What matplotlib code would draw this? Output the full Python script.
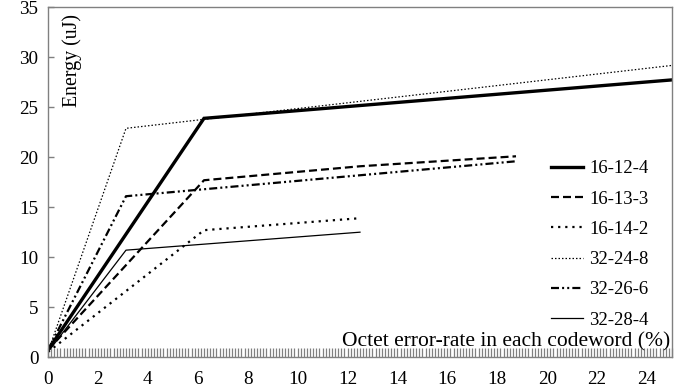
import matplotlib
matplotlib.use("Agg")
import matplotlib.pyplot as plt
import numpy as np
from matplotlib.ticker import MultipleLocator

plt.rcParams['font.family'] = ['Liberation Serif', 'DejaVu Serif']

# Data
x_16_12_4 = [0, 6.25, 25]
y_16_12_4 = [0.7, 23.9, 27.75]
x_16_13_3 = [0, 6.25, 12.5, 18.75]
y_16_13_3 = [0.7, 17.7, 19.1, 20.1]
x_16_14_2 = [0, 6.25, 12.5]
y_16_14_2 = [0.5, 12.7, 13.9]
x_32_24_8 = [0, 3.125, 25]
y_32_24_8 = [0.5, 22.9, 29.2]
x_32_26_6 = [0, 3.125, 18.75]
y_32_26_6 = [0.7, 16.1, 19.6]
x_32_28_4 = [0, 3.125, 12.5]
y_32_28_4 = [0.5, 10.7, 12.5]

labels = ['16-12-4', '16-13-3', '16-14-2', '32-24-8', '32-26-6', '32-28-4']
x_ticks = list(range(0, 25, 2))
y_ticks = list(range(0, 36, 5))

fig = plt.figure(figsize=(6.95, 3.87), dpi=100)
ax = fig.add_axes([48/695, 1-357/387, (672-48)/695, (357-7.5)/387])

FS = 13.8
ax.plot(x_16_12_4, y_16_12_4, color='black', lw=2.4, solid_joinstyle='miter', label=labels[0])
ax.plot(x_16_13_3, y_16_13_3, color='black', lw=1.6, dashes=(3.6, 1.8), label=labels[1])
ax.plot(x_16_14_2, y_16_14_2, color='black', lw=1.6, dashes=(1.0, 2.2), label=labels[2])
ax.plot(x_32_24_8, y_32_24_8, color='black', lw=0.9, dashes=(1.2, 1.6), label=labels[3])
ax.plot(x_32_26_6, y_32_26_6, color='black', lw=1.6, dashes=(3.6, 1.4, 0.9, 1.4, 0.9, 1.4), label=labels[4])
ax.plot(x_32_28_4, y_32_28_4, color='black', lw=0.9, label=labels[5])

ax.set_xlim(0, 25)
ax.set_ylim(0, 35)
ax.set_xticks(x_ticks)
ax.set_yticks(y_ticks)
ax.xaxis.set_minor_locator(MultipleLocator(0.125))

for s in ax.spines.values():
    s.set_color('#808080')
    s.set_linewidth(1.0)

ax.tick_params(axis='x', which='both', direction='in', length=6.5, width=0.9,
               color='#808080', labelsize=FS, pad=10)
ax.tick_params(axis='y', which='major', direction='in', length=4, width=1.0,
               color='#808080', labelsize=FS, pad=7)

ax.text(0.038, 0.98, 'Energy (uJ)', rotation=90, ha='center', va='top',
        transform=ax.transAxes, fontsize=14.3)
ax.text(0.997, 0.043, 'Octet error-rate in each codeword (%)', ha='right', va='center',
        transform=ax.transAxes, fontsize=15.5)

ax.legend(loc='center left', bbox_to_anchor=(0.806, 0.322), frameon=False,
          fontsize=13.5, handlelength=1.7, handletextpad=0.35, labelspacing=0.7,
          borderpad=0, borderaxespad=0)

fig.savefig('out.png', dpi=100)
